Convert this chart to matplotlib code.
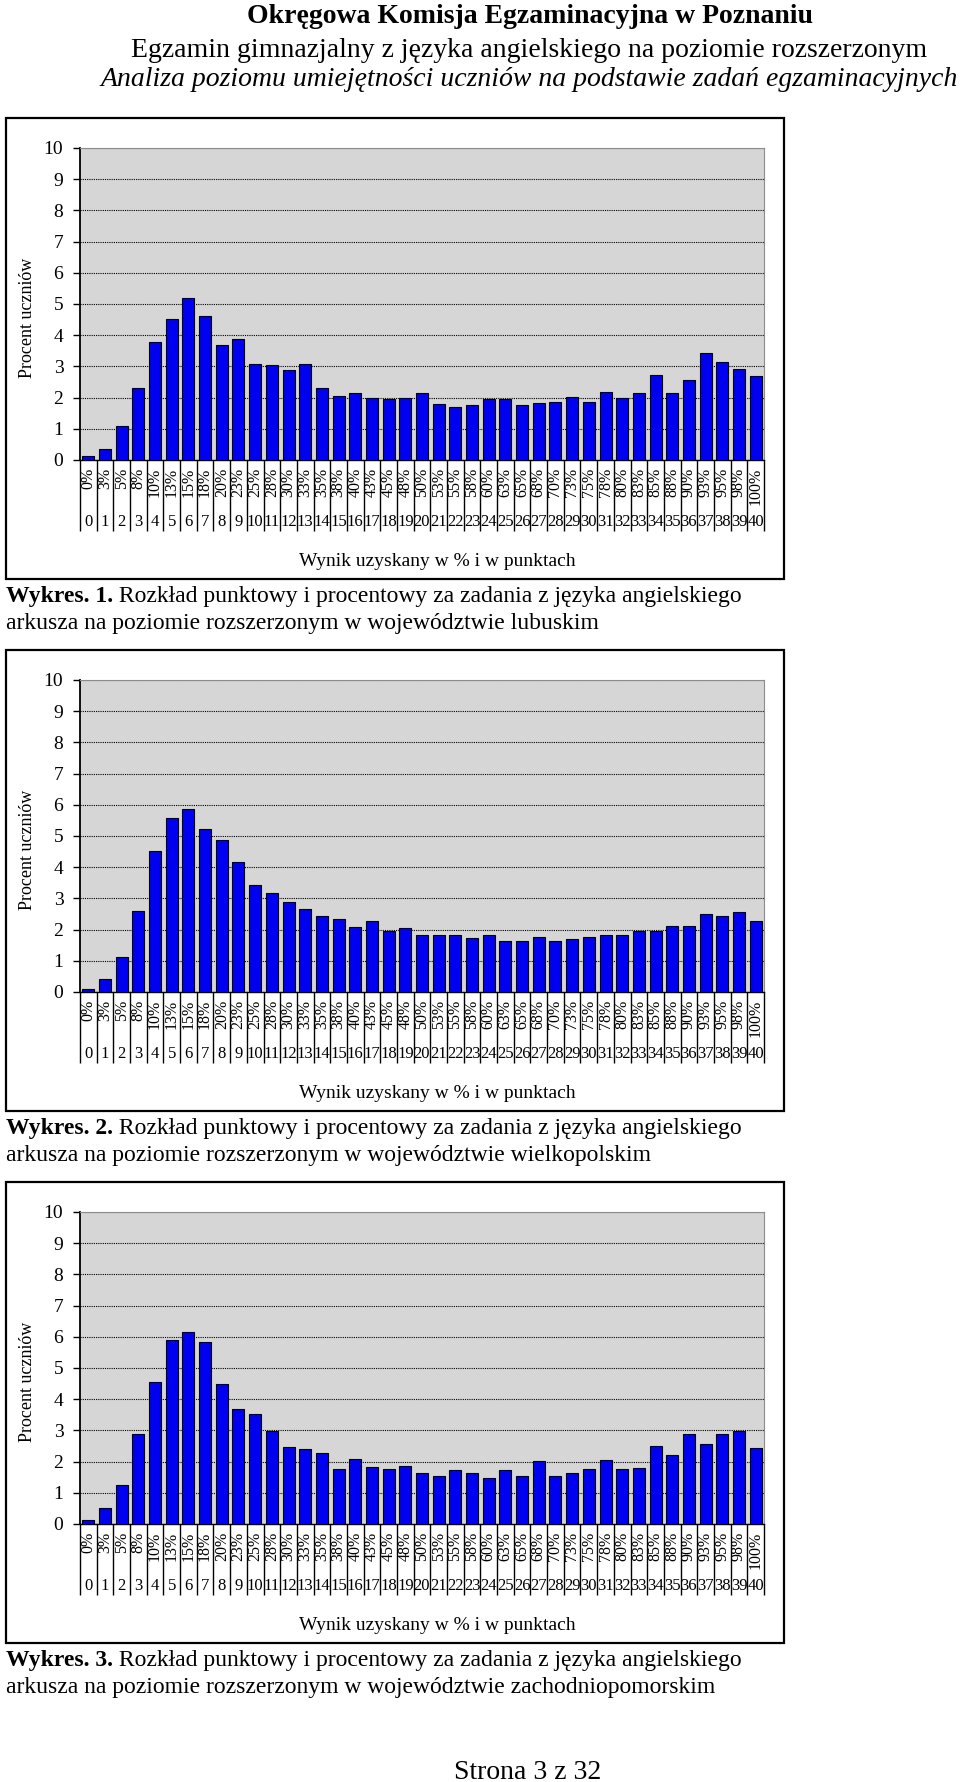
import numpy as np
import matplotlib
matplotlib.use("Agg")
import matplotlib.pyplot as plt
from matplotlib.patches import Rectangle

plt.rcParams['font.family'] = ['Liberation Serif', 'DejaVu Serif']

# ---------------------------------------------------------------
# Data (percent of students per score).
# ---------------------------------------------------------------
points = list(range(41))
percent_labels = ["0%", "3%", "5%", "8%", "10%", "13%", "15%", "18%", "20%", "23%",
                  "25%", "28%", "30%", "33%", "35%", "38%", "40%", "43%", "45%", "48%",
                  "50%", "53%", "55%", "58%", "60%", "63%", "65%", "68%", "70%", "73%",
                  "75%", "78%", "80%", "83%", "85%", "88%", "90%", "93%", "95%", "98%", "100%"]

lubuskie = [0.14, 0.35, 1.08, 2.30, 3.78, 4.52, 5.19, 4.60, 3.70, 3.88,
            3.07, 3.03, 2.89, 3.07, 2.30, 2.04, 2.16, 1.98, 1.95, 1.98,
            2.16, 1.80, 1.69, 1.76, 1.95, 1.95, 1.76, 1.84, 1.87, 2.03,
            1.87, 2.19, 1.98, 2.16, 2.73, 2.16, 2.55, 3.42, 3.13, 2.92, 2.70]

wielkopolskie = [0.11, 0.42, 1.12, 2.60, 4.52, 5.57, 5.86, 5.22, 4.86, 4.16,
                 3.43, 3.17, 2.89, 2.67, 2.45, 2.35, 2.08, 2.26, 1.94, 2.04,
                 1.84, 1.84, 1.84, 1.73, 1.84, 1.62, 1.62, 1.76, 1.62, 1.69,
                 1.76, 1.84, 1.84, 1.95, 1.97, 2.12, 2.12, 2.50, 2.42, 2.57, 2.28]

zachodniopomorskie = [0.14, 0.50, 1.25, 2.90, 4.56, 5.89, 6.14, 5.82, 4.48, 3.67,
                      3.54, 2.98, 2.48, 2.40, 2.26, 1.76, 2.08, 1.84, 1.76, 1.87,
                      1.65, 1.53, 1.73, 1.62, 1.49, 1.73, 1.53, 2.03, 1.53, 1.62,
                      1.76, 2.05, 1.76, 1.79, 2.51, 2.22, 2.87, 2.58, 2.90, 2.98, 2.43]

captions = [
    ("Wykres. 1.", " Rozkład punktowy i procentowy za zadania z języka angielskiego",
     "arkusza na poziomie rozszerzonym w województwie lubuskim"),
    ("Wykres. 2.", " Rozkład punktowy i procentowy za zadania z języka angielskiego",
     "arkusza na poziomie rozszerzonym w województwie wielkopolskim"),
    ("Wykres. 3.", " Rozkład punktowy i procentowy za zadania z języka angielskiego",
     "arkusza na poziomie rozszerzonym w województwie zachodniopomorskim"),
]

# ---------------------------------------------------------------
# Page layout (pixel positions on a 960 x 1782 page).
# ---------------------------------------------------------------
W, H = 960, 1782
fig = plt.figure(figsize=(W / 100, H / 100), dpi=100)


def fx(px):
    return px / W


def fy(py):
    return 1 - py / H


# header
fig.text(fx(530), fy(23), "Okręgowa Komisja Egzaminacyjna w Poznaniu",
         ha="center", va="baseline", fontsize=20, fontweight="bold")
fig.text(fx(529), fy(57), "Egzamin gimnazjalny z języka angielskiego na poziomie rozszerzonym",
         ha="center", va="baseline", fontsize=20)
fig.text(fx(529), fy(86), "Analiza poziomu umiejętności uczniów na podstawie zadań egzaminacyjnych",
         ha="center", va="baseline", fontsize=20, style="italic")

chart_tops = [118, 650, 1182]
series = [lubuskie, wielkopolskie, zachodniopomorskie]

for top, vals, cap in zip(chart_tops, series, captions):
    # outer frame
    fig.patches.append(Rectangle((fx(6), fy(top + 461)), 778 / W, 461 / H,
                                 transform=fig.transFigure, fill=False,
                                 edgecolor="black", linewidth=1.6))

    ax_h = 312
    ax = fig.add_axes([fx(80), fy(top + 30 + ax_h), (764 - 80) / W, ax_h / H])
    ax.set_facecolor("#d6d6d6")
    ax.bar(points, vals, width=0.72, color="#0000f0", edgecolor="black",
           linewidth=0.8, zorder=3)
    ax.set_xlim(-0.5, 40.5)
    ax.set_ylim(0, 10)
    ax.set_yticks(range(11))
    ax.set_yticklabels([str(v) for v in range(11)], fontsize=14)
    ax.set_xticks([])
    ax.yaxis.grid(True, linestyle=(0, (1, 1)), color="black", linewidth=0.8, zorder=1)
    ax.tick_params(axis="y", direction="out", length=5, width=1, pad=7)
    ax.spines["left"].set_linewidth(1.3)
    ax.spines["bottom"].set_linewidth(1.0)
    ax.spines["top"].set_color("#8c8c8c")
    ax.spines["top"].set_linewidth(0.8)
    ax.spines["right"].set_color("#8c8c8c")
    ax.spines["right"].set_linewidth(0.8)

    # label table below the axis
    xt = ax.get_xaxis_transform()
    ax.vlines(np.arange(-0.5, 41), -71 / ax_h, 0, transform=xt, colors="black",
              linewidth=1.0, clip_on=False)
    for i, lab in enumerate(percent_labels):
        ax.text(points[i], -8 / ax_h, lab, transform=xt, rotation=90,
                ha="center", va="top", fontsize=11.5)
        ax.text(points[i], -62 / ax_h, str(points[i]), transform=xt,
                ha="center", va="center", fontsize=12)

    fig.text(fx(28), fy(top + 200), "Procent uczniów", rotation=90,
             ha="center", va="center", fontsize=13)
    fig.text(fx(437), fy(top + 444), "Wynik uzyskany w % i w punktach",
             ha="center", va="center", fontsize=14)

    # caption under the chart
    t1 = fig.text(fx(6), fy(top + 484), cap[0], ha="left", va="baseline",
                  fontsize=17, fontweight="bold")
    plt.annotate(cap[1], xy=(1, 0), xycoords=t1, ha="left", va="bottom",
                 fontsize=17)
    fig.text(fx(6), fy(top + 511), cap[2], ha="left", va="baseline", fontsize=17)

fig.text(fx(528), fy(1779), "Strona 3 z 32", ha="center", va="baseline", fontsize=20)

plt.savefig("out.png", dpi=100)
